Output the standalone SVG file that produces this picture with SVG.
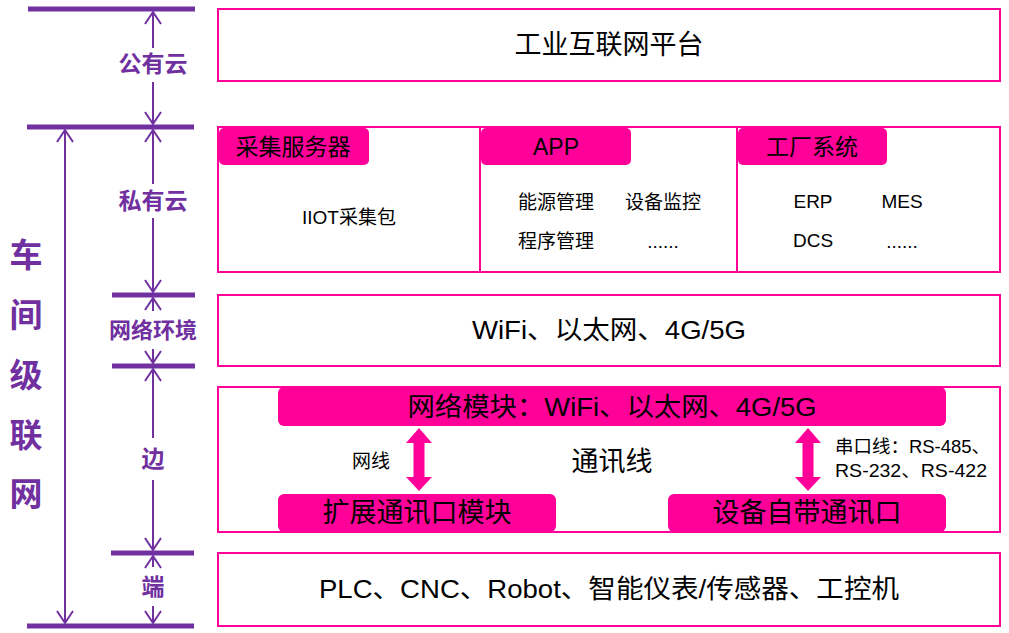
<svg xmlns="http://www.w3.org/2000/svg" width="1009" height="633" viewBox="0 0 1009 633">
<style>
.bar{stroke:#7030A0;stroke-width:5;}
.ar{stroke:#7030A0;stroke-width:2;fill:none;}
.lab{font-family:"Liberation Sans","Noto Sans CJK SC",sans-serif;font-weight:bold;fill:#7030A0;text-anchor:middle;dominant-baseline:central;}
.box{fill:#fff;stroke:#FF0099;stroke-width:2;}
.tag{fill:#FF0099;}
.t{font-family:"Liberation Sans","Noto Sans CJK SC",sans-serif;fill:#000;text-anchor:middle;dominant-baseline:central;}
.fat{fill:#FF0099;}
</style>
<defs>
<marker id="vh" markerUnits="userSpaceOnUse" viewBox="-14 -10 16 20" refX="0" refY="0" markerWidth="16" markerHeight="20" orient="auto-start-reverse">
<path d="M-12,-8 L0,0 L-12,8" fill="none" stroke="#7030A0" stroke-width="2"/>
</marker>
</defs>

<g id="scale">
<line class="bar" x1="28" y1="9" x2="195" y2="9"/>
<line class="bar" x1="27" y1="127" x2="194" y2="127"/>
<line class="bar" x1="112" y1="295" x2="195" y2="295"/>
<line class="bar" x1="112" y1="366" x2="195" y2="366"/>
<line class="bar" x1="111" y1="553" x2="194" y2="553"/>
<line class="bar" x1="27" y1="626" x2="194" y2="626"/>
</g>

<g id="labels-left">
<text class="lab" x="153" y="64" font-size="23">公有云</text>
<text class="lab" x="153" y="201" font-size="23">私有云</text>
<text class="lab" x="153" y="330" font-size="22">网络环境</text>
<text class="lab" x="153" y="459" font-size="23">边</text>
<text class="lab" x="153" y="587" font-size="23">端</text>
<text class="lab" x="26" y="255" font-size="33">车</text>
<text class="lab" x="26" y="315" font-size="33">间</text>
<text class="lab" x="26" y="375" font-size="33">级</text>
<text class="lab" x="26" y="435" font-size="33">联</text>
<text class="lab" x="26" y="494" font-size="33">网</text>
</g>

<g id="node-platform">
<rect class="box" x="218" y="9" width="782" height="72"/>
<text class="t" x="609" y="45" font-size="27">工业互联网平台</text>
</g>

<g id="node-private">
<rect class="box" x="218" y="127" width="782" height="145"/>
<line x1="480" y1="127" x2="480" y2="272" stroke="#FF0099" stroke-width="2"/>
<line x1="737" y1="127" x2="737" y2="272" stroke="#FF0099" stroke-width="2"/>
</g>

<g id="node-collector">
<rect class="tag" x="219" y="128" width="150" height="37" rx="5"/>
<text class="t" x="293" y="147" font-size="23">采集服务器</text>
<text class="t" x="349" y="217" font-size="19">IIOT采集包</text>
</g>

<g id="node-app">
<rect class="tag" x="481" y="128" width="150" height="37" rx="5"/>
<text class="t" x="556" y="147" font-size="23">APP</text>
<text class="t" x="556" y="202" font-size="19">能源管理</text>
<text class="t" x="663" y="202" font-size="19">设备监控</text>
<text class="t" x="556" y="241" font-size="19">程序管理</text>
<text class="t" x="663" y="241" font-size="19">......</text>
</g>

<g id="node-factory">
<rect class="tag" x="738" y="128" width="149" height="37" rx="5"/>
<text class="t" x="812" y="147" font-size="23">工厂系统</text>
<text class="t" x="813" y="201" font-size="19">ERP</text>
<text class="t" x="902" y="201" font-size="19">MES</text>
<text class="t" x="813" y="240" font-size="19">DCS</text>
<text class="t" x="902" y="241" font-size="19">......</text>
</g>

<g id="node-network">
<rect class="box" x="218" y="295" width="782" height="71"/>
<text class="t" x="609" y="330" font-size="26" textLength="274" lengthAdjust="spacingAndGlyphs">WiFi、以太网、4G/5G</text>
</g>

<g id="node-edge">
<rect class="box" x="218" y="387" width="782" height="145"/>
<text class="t" x="612" y="462" font-size="27">通讯线</text>
<text class="t" x="371" y="461" font-size="19">网线</text>
<text class="t" x="835" y="447" font-size="18" style="text-anchor:start" textLength="155" lengthAdjust="spacingAndGlyphs">串口线：RS-485、</text>
<text class="t" x="835" y="471" font-size="18" style="text-anchor:start" textLength="152" lengthAdjust="spacingAndGlyphs">RS-232、RS-422</text>
</g>

<g id="node-netmodule">
<rect class="tag" x="278" y="387" width="668" height="39" rx="6"/>
<text class="t" x="612" y="407" font-size="26" textLength="409" lengthAdjust="spacingAndGlyphs">网络模块：WiFi、以太网、4G/5G</text>
</g>

<g id="node-extport">
<rect class="tag" x="278" y="494" width="278" height="38" rx="6"/>
<text class="t" x="417" y="513" font-size="27">扩展通讯口模块</text>
</g>

<g id="node-devport">
<rect class="tag" x="668" y="494" width="278" height="38" rx="6"/>
<text class="t" x="807" y="513" font-size="27">设备自带通讯口</text>
</g>

<g id="node-terminal">
<rect class="box" x="218" y="553" width="782" height="73"/>
<text class="t" x="609" y="589" font-size="26" textLength="580" lengthAdjust="spacingAndGlyphs">PLC、CNC、Robot、智能仪表/传感器、工控机</text>
</g>

<g id="connectors">
<line class="ar" x1="153" y1="48" x2="153" y2="12" marker-end="url(#vh)"/>
<line class="ar" x1="153" y1="82" x2="153" y2="124" marker-end="url(#vh)"/>
<line class="ar" x1="153" y1="184" x2="153" y2="130" marker-end="url(#vh)"/>
<line class="ar" x1="153" y1="218" x2="153" y2="292" marker-end="url(#vh)"/>
<line class="ar" x1="153" y1="311" x2="153" y2="298" marker-end="url(#vh)"/>
<line class="ar" x1="153" y1="349" x2="153" y2="363" marker-end="url(#vh)"/>
<line class="ar" x1="153" y1="438" x2="153" y2="369" marker-end="url(#vh)"/>
<line class="ar" x1="153" y1="480" x2="153" y2="550" marker-end="url(#vh)"/>
<line class="ar" x1="153" y1="567" x2="153" y2="556" marker-end="url(#vh)"/>
<line class="ar" x1="153" y1="606" x2="153" y2="623" marker-end="url(#vh)"/>
<line class="ar" x1="65" y1="130" x2="65" y2="623" marker-start="url(#vh)" marker-end="url(#vh)"/>
<polygon class="fat" points="419,428 432,443 424.5,443 424.5,477 432,477 419,491 406,477 413.5,477 413.5,443 406,443"/>
<polygon class="fat" points="808,428 821,443 813.5,443 813.5,477 821,477 808,491 795,477 802.5,477 802.5,443 795,443"/>
</g>
</svg>
